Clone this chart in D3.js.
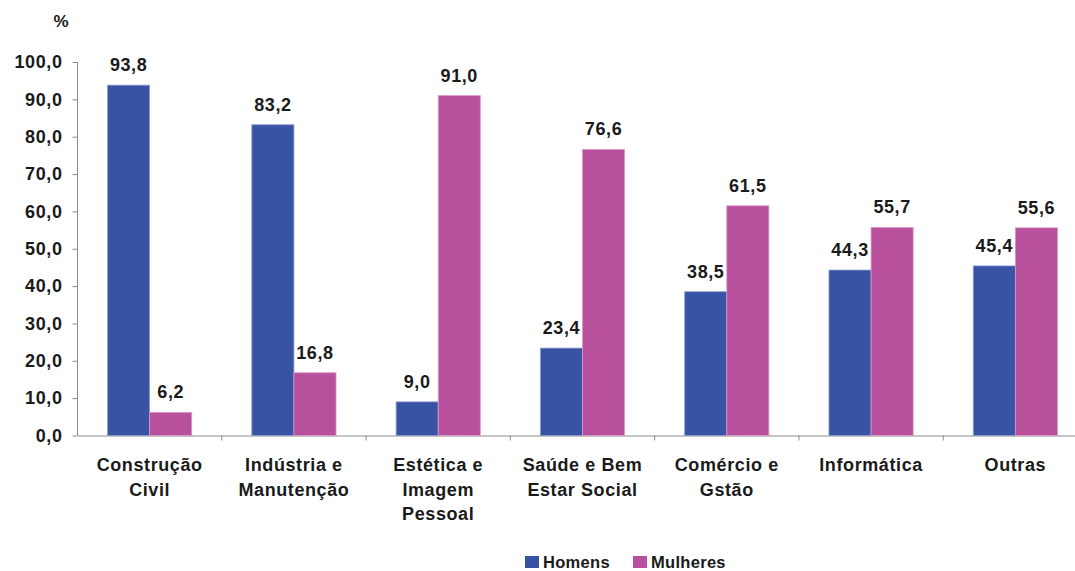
<!DOCTYPE html>
<html>
<head>
<meta charset="utf-8">
<script src="https://cdn.jsdelivr.net/npm/d3@7"></script>
<style>
  html, body { margin: 0; padding: 0; background: #fff; }
  svg { display: block; }
  text { font-family: "Liberation Sans", Arial, sans-serif; font-weight: bold; fill: #1a1a1a; }
</style>
</head>
<body>
<svg id="chart" width="1075" height="571"></svg>
<script>
// Distribuição por sexo em cada área (%)
const categories = [
  ["Construção", "Civil"],
  ["Indústria e", "Manutenção"],
  ["Estética e", "Imagem", "Pessoal"],
  ["Saúde e Bem", "Estar Social"],
  ["Comércio e", "Gstão"],
  ["Informática"],
  ["Outras"]
];
const seriesNames = ["Homens", "Mulheres"];
const homens   = [93.8, 83.2, 9.0, 23.4, 38.5, 44.3, 45.4];
const mulheres = [6.2, 16.8, 91.0, 76.6, 61.5, 55.7, 55.6];
const yTicks = [0, 10, 20, 30, 40, 50, 60, 70, 80, 90, 100];
const colors = ["#3953a4", "#b9509e"];

const fmt = v => v.toFixed(1).replace(".", ",");

const svg = d3.select("#chart");
const x0 = 77.5, x1 = 1087.5, yBase = 435.5, yTop = 62;

const x = d3.scaleBand()
  .domain(d3.range(categories.length))
  .range([x0, x1])
  .paddingInner(0).paddingOuter(0);

const xInner = d3.scaleBand()
  .domain(seriesNames)
  .range([0, x.bandwidth()])
  .paddingInner(0)
  .paddingOuter(0.714);

const y = d3.scaleLinear().domain([0, 100]).range([yBase, yTop]);

// Y axis
const yAxis = d3.axisLeft(y)
  .tickValues(yTicks)
  .tickFormat(fmt)
  .tickSize(5)
  .tickPadding(10);

const gy = svg.append("g").attr("transform", `translate(${x0},0)`).call(yAxis);
gy.select(".domain").attr("stroke", "#8c8c8c").attr("d", `M-0,${yTop}H0V${yBase}`);
gy.selectAll(".tick line").attr("stroke", "#8c8c8c");
gy.selectAll(".tick text")
  .attr("font-size", 18)
  .attr("font-family", "Liberation Sans, Arial, sans-serif")
  .attr("font-weight", "bold")
  .attr("fill", "#1a1a1a")
  .attr("letter-spacing", "0.6px");

// X axis baseline with category ticks
const xAxis = d3.axisBottom(x).tickValues([]).tickSizeOuter(0);
const gx = svg.append("g").attr("transform", `translate(0,${yBase})`).call(xAxis);
gx.select(".domain").attr("stroke", "#8c8c8c");
const boundaries = d3.range(1, categories.length + 1).map(i => x0 + i * x.step());
gx.selectAll("line.sep").data(boundaries).enter().append("line")
  .attr("class", "sep")
  .attr("x1", d => d).attr("x2", d => d)
  .attr("y1", 0).attr("y2", 5)
  .attr("stroke", "#8c8c8c");

// Percent unit
svg.append("text").attr("x", 61).attr("y", 27).attr("text-anchor", "middle")
  .attr("font-size", 17).text("%");

// Bars
const data = categories.map((c, i) => ({ i, values: [homens[i], mulheres[i]] }));
const groups = svg.append("g").selectAll("g").data(data).enter().append("g")
  .attr("transform", d => `translate(${x(d.i)},0)`);

groups.selectAll("rect").data(d => d.values.map((v, k) => ({ k, v }))).enter().append("rect")
  .attr("x", d => xInner(seriesNames[d.k]))
  .attr("width", xInner.bandwidth())
  .attr("y", d => y(d.v))
  .attr("height", d => yBase - y(d.v))
  .attr("fill", d => colors[d.k])
  .attr("stroke", d => d.k === 0 ? "#8e9ccd" : "#d99ac8")
  .attr("stroke-width", 0.8);

groups.selectAll("text.val").data(d => d.values.map((v, k) => ({ k, v }))).enter().append("text")
  .attr("class", "val")
  .attr("x", d => xInner(seriesNames[d.k]) + xInner.bandwidth() / 2)
  .attr("y", d => y(d.v) - 14)
  .attr("text-anchor", "middle")
  .attr("font-size", 18)
  .attr("letter-spacing", "0.6px")
  .text(d => fmt(d.v));

// Category labels
const labels = svg.append("g").selectAll("text").data(categories).enter().append("text")
  .attr("text-anchor", "middle")
  .attr("font-size", 18)
  .attr("letter-spacing", "0.6px")
  .attr("transform", (d, i) => `translate(${x(i) + x.bandwidth() / 2},471)`);
labels.selectAll("tspan").data(d => d).enter().append("tspan")
  .attr("x", 0)
  .attr("dy", (d, j) => j === 0 ? 0 : 24.5)
  .text(d => d);

// Legend
const legend = svg.append("g").attr("transform", "translate(525,556)");
const legendX = [0, 108];
seriesNames.forEach((name, k) => {
  const g = legend.append("g").attr("transform", `translate(${legendX[k]},0)`);
  g.append("rect").attr("width", 14).attr("height", 12).attr("y", 0).attr("fill", colors[k]);
  g.append("text").attr("x", 18).attr("y", 12).attr("font-size", 16.5)
    .attr("letter-spacing", "0.3px").text(name);
});
</script>
</body>
</html>
